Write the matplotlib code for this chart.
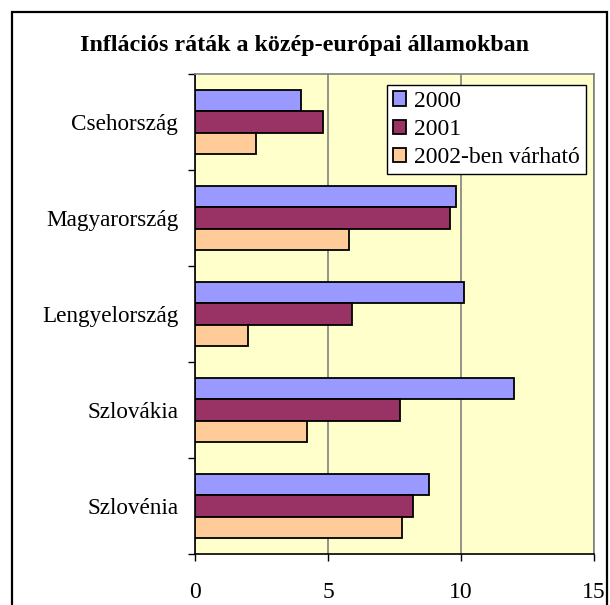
import numpy as np
from matplotlib import pyplot as plt
from matplotlib.patches import Rectangle

countries = ["Csehország", "Magyarország", "Lengyelország", "Szlovákia", "Szlovénia"]
series_names = ["2000", "2001", "2002-ben várható"]
values_2000 = [4.0, 9.8, 10.1, 12.0, 8.8]
values_2001 = [4.8, 9.6, 5.9, 7.7, 8.2]
values_2002 = [2.3, 5.8, 2.0, 4.2, 7.8]
colors = ["#9999FF", "#993366", "#FFCC99"]
x_ticks = [0, 5, 10, 15]

plt.rcParams["font.family"] = ["Liberation Serif", "DejaVu Serif"]

fig = plt.figure(figsize=(6.1, 6.05), dpi=100)
# outer chart frame (bottom edge is cut off in the original)
fig.patches.append(Rectangle((12 / 610, -0.05), 595 / 610, 1.05 - 12 / 605,
                             transform=fig.transFigure, fill=False,
                             edgecolor="black", linewidth=1.6))

ax = fig.add_axes([195 / 610, 51 / 605, 399 / 610, 480 / 605])
ax.set_facecolor("#FFFFCC")

pos = np.arange(len(countries))
h = 0.22
for i, (vals, name) in enumerate(zip([values_2000, values_2001, values_2002], series_names)):
    ax.barh(pos + (i - 1) * h, vals, height=h, color=colors[i], edgecolor="black",
            linewidth=1.3, label=name, zorder=3)

ax.set_xlim(0, 15)
ax.set_ylim(len(countries) - 0.5, -0.5)
ax.set_xticks(x_ticks)
ax.set_xticklabels([str(t) for t in x_ticks], fontsize=17)
ax.xaxis.grid(True, color="#808080", linewidth=1.2, zorder=1)

ax.set_yticks(np.arange(len(countries) + 1) - 0.5)
ax.set_yticklabels([])
ax.set_yticks(pos, minor=True)
ax.set_yticklabels(countries, minor=True, fontsize=16.7)
ax.tick_params(axis="y", which="minor", length=0, pad=12)
ax.tick_params(axis="y", which="major", length=5, width=1, direction="out")
ax.tick_params(axis="x", length=5, width=1, direction="out", pad=15)

for side in ["left", "bottom"]:
    ax.spines[side].set_color("black")
    ax.spines[side].set_linewidth(1.2)
for side in ["top", "right"]:
    ax.spines[side].set_color("#808080")
    ax.spines[side].set_linewidth(1.2)

leg = ax.legend(loc="upper right", bbox_to_anchor=(0.98, 0.977), fontsize=17,
                frameon=True, fancybox=False, edgecolor="black", framealpha=1,
                handlelength=0.55, handleheight=0.55, handletextpad=0.35,
                borderpad=0.25, labelspacing=0.3, borderaxespad=0)
leg.get_frame().set_linewidth(1.0)

fig.text(0.5, 1 - 45 / 605, "Inflációs ráták a közép-európai államokban",
         ha="center", va="center", fontsize=17.3, fontweight="bold")

fig.savefig("out.png", dpi=100)
